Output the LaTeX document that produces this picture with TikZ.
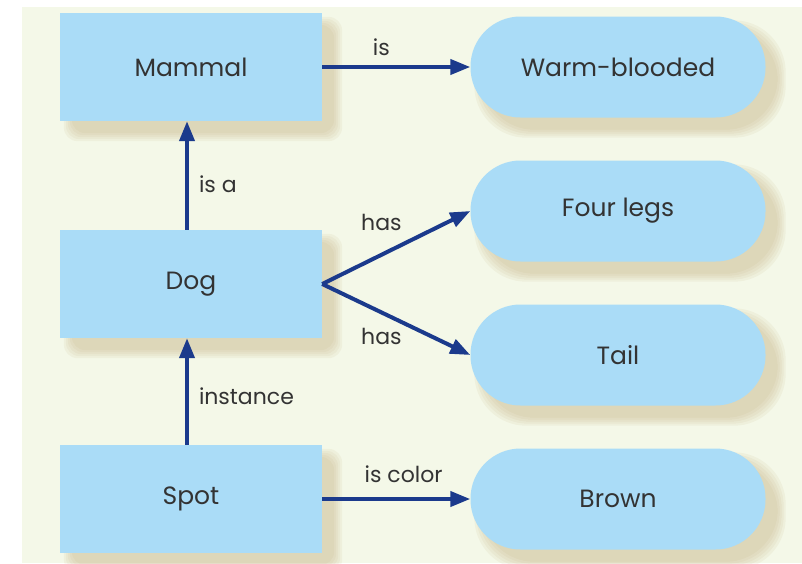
\documentclass[tikz,border=0pt]{standalone}
\usepackage{fontspec}
\setmainfont{Poppins}
\usetikzlibrary{arrows.meta,calc,backgrounds}
\definecolor{paper}{HTML}{F4F8E8}
\definecolor{boxblue}{HTML}{AADCF7}
\definecolor{linkblue}{HTML}{1B3A8C}
\definecolor{shade}{HTML}{C2AC7C}
\definecolor{ink}{HTML}{333333}
\begin{document}
\begin{tikzpicture}[
        x=1pt, y=-1pt,
        concept/.style={fill=boxblue, draw=none, minimum width=262pt,
            minimum height=108pt, text=ink, font=\fontsize{25}{30}\selectfont},
        property/.style={fill=boxblue, draw=none, rounded corners=50pt,
            minimum width=295pt, minimum height=101pt, text=ink,
            font=\fontsize{25}{30}\selectfont},
        link/.style={draw=linkblue, line width=4pt,
            -{Triangle[length=20pt,width=15pt]}},
        tag/.style={text=ink, font=\fontsize{22}{27}\selectfont, inner sep=2pt},
        haze/.style={fill=shade, opacity=0.10},
    ]
    \useasboundingbox (0,0) rectangle (802,563);

    \node[concept](mammal) at (191,67){Mammal};
    \node[concept](dog) at (191,284){Dog};
    \node[concept](spot) at (191,499){Spot};

    \node[property](warm) at (618,67){Warm-blooded};
    \node[property](legs) at (618,211){Four legs};
    \node[property](tail) at (618,355){Tail};
    \node[property](brown) at (618,499){Brown};

    % paper and soft shadows
    \begin{pgfonlayer}{background}
        \fill[paper] (22,7) rectangle (802,563);
        \foreach \n/\r in {mammal/14, dog/14, spot/14, warm/52, legs/52, tail/52, brown/52}{
            \foreach \k in {0,2,...,8}{
                \fill[haze, rounded corners=\r pt]
                    ($(\n.north west)+(12-\k,12-\k)$) rectangle ($(\n.south east)+(12+\k,12+\k)$);
            }
        }
    \end{pgfonlayer}

    \draw[link] (mammal.east) -- (warm.west) node[tag, pos=0.4, above=7pt]{is};
    \draw[link] (dog.north -| 187,0) -- (mammal.south -| 187,0) node[tag, pos=0.42, right=8pt]{is a};
    \draw[link] (dog.east) -- (legs.west) node[tag, pos=0.4, above=20pt]{has};
    \draw[link] (dog.east) -- (tail.west) node[tag, pos=0.4, below=12pt]{has};
    \draw[link] (spot.north -| 187,0) -- (dog.south -| 187,0) node[tag, pos=0.46, right=8pt]{instance};
    \draw[link] (spot.east) -- (brown.west) node[tag, pos=0.55, above=12pt]{is color};
\end{tikzpicture}
\end{document}
